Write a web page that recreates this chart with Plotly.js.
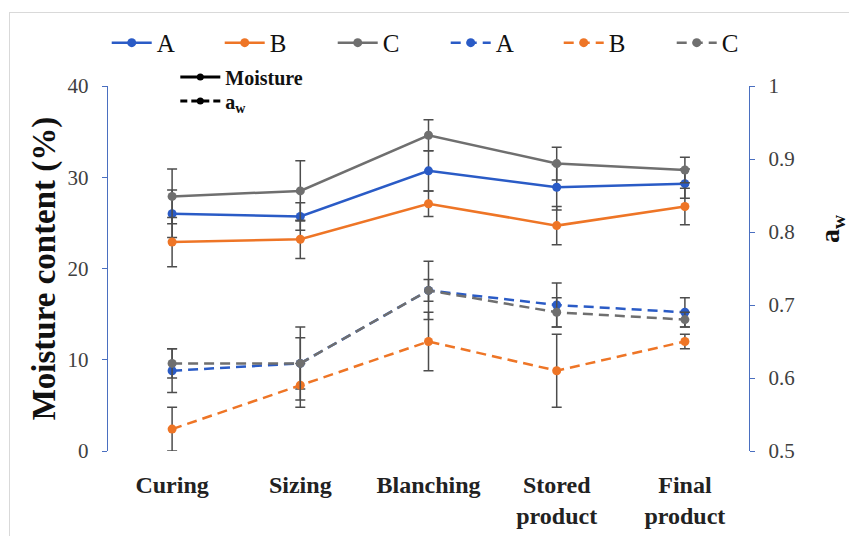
<!DOCTYPE html>
<html>
<head>
<meta charset="utf-8">
<script src="https://cdn.plot.ly/plotly-3.0.1.min.js"></script>
<style>
  html, body { margin: 0; padding: 0; background: #ffffff; }
  #wrap { position: relative; width: 849px; height: 536px; }
  #chart { width: 849px; height: 536px; }
  #chart text { font-family: 'Liberation Serif', serif !important; }
  #frame { position: absolute; left: 9px; top: 12px; right: -2px; bottom: -2px;
           border-left: 1px solid #d9d9d9; border-top: 1px solid #d9d9d9; pointer-events: none; }
</style>
</head>
<body>
<div id="wrap">
  <div id="chart"></div>
  <div id="frame"></div>
</div>
<script>
// Categories (x tick labels)
const categories = ['Curing', 'Sizing', 'Blanching', 'Stored<br>product', 'Final<br>product'];

// Moisture content (%) - left axis
const moistA = [26.0, 25.7, 30.7, 28.9, 29.3];
const moistB = [22.9, 23.2, 27.1, 24.7, 26.8];
const moistC = [27.9, 28.5, 34.6, 31.5, 30.8];
const moistErrA = [2.6, 1.5, 2.2, 2.5, 1.6];
const moistErrB = [2.7, 2.1, 1.4, 2.1, 2.0];
const moistErrC = [3.0, 3.3, 1.7, 1.8, 1.4];

// Water activity aw - right axis
const awA = [0.61, 0.62, 0.72, 0.70, 0.69];
const awB = [0.53, 0.59, 0.65, 0.61, 0.65];
const awC = [0.62, 0.62, 0.72, 0.69, 0.68];
const awErrA = [0.03, 0.035, 0.015, 0.03, 0.02];
const awErrB = [0.03, 0.03, 0.04, 0.05, 0.01];
const awErrC = [0.02, 0.05, 0.04, 0.02, 0.01];

const seriesNames = ['A', 'B', 'C'];
const colors = ['#2A5BC6', '#EE7526', '#6F6F6F'];
const errColor = '#4d4d4d';
const serif = 'Liberation Serif';

function errObj(arr) {
  return { type: 'data', array: arr, visible: true, color: errColor, thickness: 1.5, width: 5 };
}

const moist = [moistA, moistB, moistC];
const moistErr = [moistErrA, moistErrB, moistErrC];
const aw = [awA, awB, awC];
const awErr = [awErrA, awErrB, awErrC];

const traces = [];
for (let i = 0; i < 3; i++) {
  traces.push({
    x: categories, y: moist[i], name: seriesNames[i], type: 'scatter', mode: 'lines+markers',
    line: { color: colors[i], width: 2.5 },
    marker: { color: colors[i], size: 9, symbol: 'circle' },
    error_y: errObj(moistErr[i]), yaxis: 'y', legend: 'legend'
  });
}
for (let i = 0; i < 3; i++) {
  traces.push({
    x: categories, y: aw[i], name: seriesNames[i], type: 'scatter', mode: 'lines+markers',
    line: { color: colors[i], width: 2.5, dash: '10px,6px' },
    marker: { color: colors[i], size: 9, symbol: 'circle' },
    error_y: errObj(awErr[i]), yaxis: 'y2', legend: 'legend'
  });
}
// Style key legend entries (no data)
traces.push({
  x: [null], y: [null], name: '<b>Moisture</b>', type: 'scatter', mode: 'lines+markers',
  line: { color: '#000000', width: 3 }, marker: { color: '#000000', size: 7 },
  legend: 'legend2', hoverinfo: 'skip'
});
traces.push({
  x: [null], y: [null], name: '<b>a<sub>w</sub></b>', type: 'scatter', mode: 'lines+markers',
  line: { color: '#000000', width: 3, dash: '7px,4px' }, marker: { color: '#000000', size: 7 },
  legend: 'legend3', hoverinfo: 'skip'
});

const axisBlue = '#4A6FC0';

const layout = {
  width: 849, height: 536,
  margin: { l: 108, r: 100, t: 86, b: 85 },
  paper_bgcolor: '#ffffff', plot_bgcolor: '#ffffff',
  font: { family: serif, color: '#000000' },
  showlegend: true,
  xaxis: {
    type: 'category', range: [-0.5, 4.5], showgrid: false, zeroline: false,
    showline: false, ticks: '', tickfont: { family: serif, size: 24, color: '#222222', weight: 'bold' },
    ticklabelstandoff: 17
  },
  yaxis: {
    range: [0, 40], dtick: 10, showgrid: false, zeroline: false,
    showline: true, linecolor: axisBlue, linewidth: 1.2,
    ticks: 'outside', ticklen: 5, tickcolor: axisBlue, tickwidth: 1,
    tickfont: { family: serif, size: 21, color: '#404040' },
    ticklabelstandoff: 9,
    title: { text: 'Moisture content (%)', font: { family: serif, size: 33, color: '#111111', weight: 'bold' }, standoff: 2 }
  },
  yaxis2: {
    range: [0.5, 1], dtick: 0.1, overlaying: 'y', side: 'right', showgrid: false, zeroline: false,
    showline: true, linecolor: axisBlue, linewidth: 1.2,
    ticks: 'outside', ticklen: 5, tickcolor: axisBlue, tickwidth: 1,
    tickfont: { family: serif, size: 21, color: '#404040' },
    ticklabelstandoff: 9
  },
  annotations: [{
    text: '<b>a<sub>w</sub></b>', xref: 'paper', yref: 'paper',
    x: 1 + (832 - 749) / 641, y: (451 - 229) / 365, xanchor: 'center', yanchor: 'middle',
    textangle: -90, showarrow: false,
    font: { family: serif, size: 28, color: '#111111' }
  }],
  legend: {
    orientation: 'h', x: -0.002, xanchor: 'left', y: 1.118, yanchor: 'middle',
    entrywidth: 58, entrywidthmode: 'pixels',
    font: { family: serif, size: 25, color: '#111111' },
    bgcolor: 'rgba(0,0,0,0)', itemwidth: 40
  },
  legend2: {
    orientation: 'v', x: 0.105, xanchor: 'left', y: 1 + (86 - 77) / 365, yanchor: 'middle',
    font: { family: serif, size: 20, color: '#111111' },
    bgcolor: 'rgba(0,0,0,0)', tracegroupgap: 0, itemwidth: 40
  },
  legend3: {
    orientation: 'v', x: 0.105, xanchor: 'left', y: 1 + (86 - 101) / 365, yanchor: 'middle',
    font: { family: serif, size: 20, color: '#111111' },
    bgcolor: 'rgba(0,0,0,0)', tracegroupgap: 0, itemwidth: 40
  }
};

Plotly.newPlot('chart', traces, layout, { displayModeBar: false, staticPlot: true });
</script>
</body>
</html>
